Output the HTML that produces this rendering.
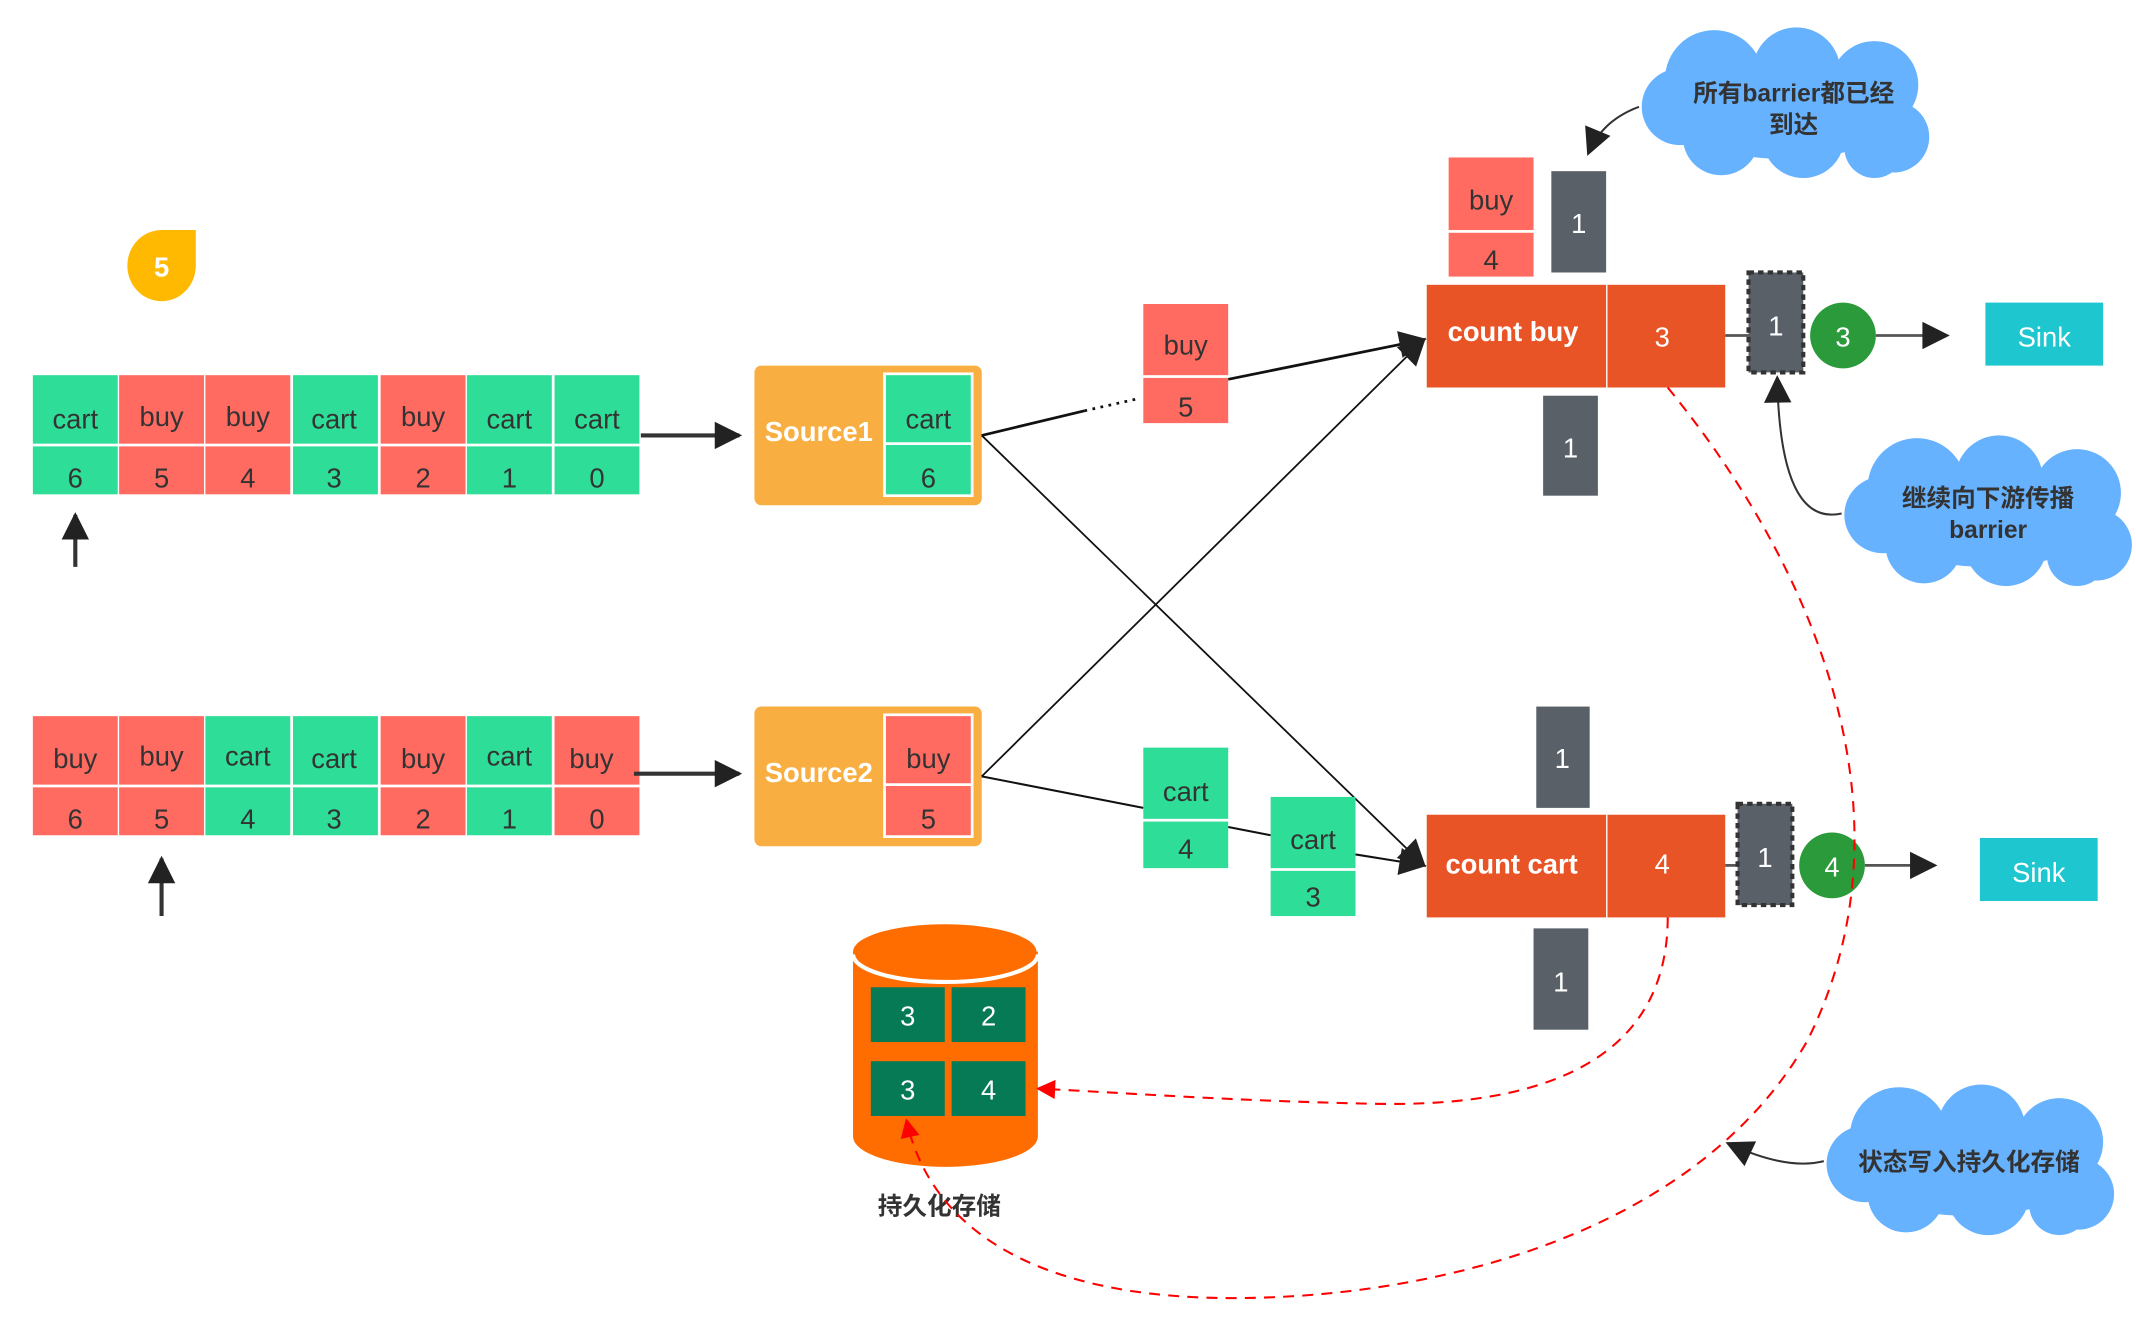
<!DOCTYPE html>
<html><head><meta charset="utf-8"><style>
html,body{margin:0;padding:0;background:#fff;}
svg{display:block;}
text{font-family:"Liberation Sans","Noto Sans CJK SC",sans-serif;}
</style></head><body>
<svg width="2136" height="1320" viewBox="0 0 1560 964" preserveAspectRatio="none" xmlns="http://www.w3.org/2000/svg">
<defs>
<marker id="ab" viewBox="0 0 10 10" refX="9" refY="5" markerWidth="7" markerHeight="7" orient="auto" markerUnits="userSpaceOnUse"><path d="M0,0L10,5L0,10z" fill="#333"/></marker>
<marker id="ab2" viewBox="0 0 10 10" refX="9" refY="5" markerWidth="24" markerHeight="20" orient="auto" markerUnits="userSpaceOnUse"><path d="M0,0L10,5L0,10z" fill="#222"/></marker>
<marker id="ar" viewBox="0 0 10 10" refX="9" refY="5" markerWidth="16" markerHeight="14" orient="auto" markerUnits="userSpaceOnUse"><path d="M0,0L10,5L0,10z" fill="#f00"/></marker>
<g id="cloud">
<circle cx="55" cy="38" r="36"/><circle cx="115" cy="32" r="32"/><circle cx="172" cy="42" r="32"/>
<circle cx="186" cy="80" r="26"/><circle cx="172" cy="88" r="22"/><circle cx="120" cy="80" r="30"/><circle cx="60" cy="80" r="28"/>
<circle cx="30" cy="58" r="28"/><ellipse cx="106" cy="58" rx="90" ry="38"/>
</g>
</defs>

<!-- yellow drop -->
<path d="M93,194 A25,26 0 0 1 118,168 L143,168 L143,194 A25,26 0 0 1 93,194 Z" fill="#FFB900"/>
<text x="118" y="202" fill="#fff" font-size="20" font-weight="bold" text-anchor="middle">5</text>

<!-- row 1 -->
<g font-size="20" fill="#333" text-anchor="middle">
<rect x="24" y="274" width="62" height="50" fill="#2EDD97"/><rect x="24" y="326" width="62" height="35" fill="#2EDD97"/>
<rect x="87" y="274" width="62" height="50" fill="#FF6B61"/><rect x="87" y="326" width="62" height="35" fill="#FF6B61"/>
<rect x="150" y="274" width="62" height="50" fill="#FF6B61"/><rect x="150" y="326" width="62" height="35" fill="#FF6B61"/>
<rect x="214" y="274" width="62" height="50" fill="#2EDD97"/><rect x="214" y="326" width="62" height="35" fill="#2EDD97"/>
<rect x="278" y="274" width="62" height="50" fill="#FF6B61"/><rect x="278" y="326" width="62" height="35" fill="#FF6B61"/>
<rect x="341" y="274" width="62" height="50" fill="#2EDD97"/><rect x="341" y="326" width="62" height="35" fill="#2EDD97"/>
<rect x="405" y="274" width="62" height="50" fill="#2EDD97"/><rect x="405" y="326" width="62" height="35" fill="#2EDD97"/>
<text x="55" y="313">cart</text><text x="118" y="311">buy</text><text x="181" y="311">buy</text><text x="244" y="313">cart</text><text x="309" y="311">buy</text><text x="372" y="313">cart</text><text x="436" y="313">cart</text>
<text x="55" y="356">6</text><text x="118" y="356">5</text><text x="181" y="356">4</text><text x="244" y="356">3</text><text x="309" y="356">2</text><text x="372" y="356">1</text><text x="436" y="356">0</text>

<!-- row 2 -->
<rect x="24" y="523" width="62" height="50" fill="#FF6B61"/><rect x="24" y="575" width="62" height="35" fill="#FF6B61"/>
<rect x="87" y="523" width="62" height="50" fill="#FF6B61"/><rect x="87" y="575" width="62" height="35" fill="#FF6B61"/>
<rect x="150" y="523" width="62" height="50" fill="#2EDD97"/><rect x="150" y="575" width="62" height="35" fill="#2EDD97"/>
<rect x="214" y="523" width="62" height="50" fill="#2EDD97"/><rect x="214" y="575" width="62" height="35" fill="#2EDD97"/>
<rect x="278" y="523" width="62" height="50" fill="#FF6B61"/><rect x="278" y="575" width="62" height="35" fill="#FF6B61"/>
<rect x="341" y="523" width="62" height="50" fill="#2EDD97"/><rect x="341" y="575" width="62" height="35" fill="#2EDD97"/>
<rect x="405" y="523" width="62" height="50" fill="#FF6B61"/><rect x="405" y="575" width="62" height="35" fill="#FF6B61"/>
<text x="55" y="561">buy</text><text x="118" y="559">buy</text><text x="181" y="559">cart</text><text x="244" y="561">cart</text><text x="309" y="561">buy</text><text x="372" y="559">cart</text><text x="432" y="561">buy</text>
<text x="55" y="605">6</text><text x="118" y="605">5</text><text x="181" y="605">4</text><text x="244" y="605">3</text><text x="309" y="605">2</text><text x="372" y="605">1</text><text x="436" y="605">0</text>
</g>

<!-- arrows from rows -->
<line x1="468" y1="318" x2="540" y2="318" stroke="#333" stroke-width="3" marker-end="url(#ab2)"/>
<line x1="463" y1="565" x2="540" y2="565" stroke="#333" stroke-width="3" marker-end="url(#ab2)"/>
<line x1="55" y1="414" x2="55" y2="376" stroke="#333" stroke-width="3" marker-end="url(#ab2)"/>
<line x1="118" y1="669" x2="118" y2="627" stroke="#333" stroke-width="3" marker-end="url(#ab2)"/>

<!-- sources -->
<rect x="551" y="267" width="166" height="102" rx="5" fill="#F9AE41"/>
<text x="598" y="322" fill="#fff" font-size="20" font-weight="bold" text-anchor="middle">Source1</text>
<rect x="646" y="273" width="64" height="89" fill="#2EDD97" stroke="#fff" stroke-width="2"/>
<line x1="646" y1="324" x2="710" y2="324" stroke="#fff" stroke-width="2"/>
<text x="678" y="313" font-size="20" fill="#333" text-anchor="middle">cart</text>
<text x="678" y="356" font-size="20" fill="#333" text-anchor="middle">6</text>

<rect x="551" y="516" width="166" height="102" rx="5" fill="#F9AE41"/>
<text x="598" y="571" fill="#fff" font-size="20" font-weight="bold" text-anchor="middle">Source2</text>
<rect x="646" y="522" width="64" height="89" fill="#FF6B61" stroke="#fff" stroke-width="2"/>
<line x1="646" y1="573" x2="710" y2="573" stroke="#fff" stroke-width="2"/>
<text x="678" y="561" font-size="20" fill="#333" text-anchor="middle">buy</text>
<text x="678" y="605" font-size="20" fill="#333" text-anchor="middle">5</text>

<!-- connector lines -->
<line x1="717" y1="318" x2="792" y2="300" stroke="#111" stroke-width="2"/>
<line x1="792" y1="300" x2="832" y2="291" stroke="#111" stroke-width="2" stroke-dasharray="2,4"/>
<line x1="897" y1="277" x2="1040" y2="248" stroke="#111" stroke-width="2" marker-end="url(#ab2)"/>
<line x1="717" y1="318" x2="1040" y2="632" stroke="#111" stroke-width="1.3" marker-end="url(#ab2)"/>
<line x1="717" y1="567" x2="1040" y2="248" stroke="#111" stroke-width="1.3" marker-end="url(#ab2)"/>
<line x1="717" y1="567" x2="835" y2="590" stroke="#111" stroke-width="1.5"/>
<line x1="897" y1="604" x2="928" y2="610" stroke="#111" stroke-width="1.5"/>
<line x1="990" y1="624" x2="1040" y2="632" stroke="#111" stroke-width="1.5" marker-end="url(#ab2)"/>

<!-- in-flight boxes -->
<g font-size="20" fill="#333" text-anchor="middle">
<rect x="835" y="222" width="62" height="52" fill="#FF6B61"/><rect x="835" y="276" width="62" height="33" fill="#FF6B61"/>
<text x="866" y="259">buy</text><text x="866" y="304">5</text>
<rect x="835" y="546" width="62" height="52" fill="#2EDD97"/><rect x="835" y="600" width="62" height="34" fill="#2EDD97"/>
<text x="866" y="585">cart</text><text x="866" y="627">4</text>
<rect x="928" y="582" width="62" height="52" fill="#2EDD97"/><rect x="928" y="636" width="62" height="33" fill="#2EDD97"/>
<text x="959" y="620">cart</text><text x="959" y="662">3</text>
<rect x="1058" y="115" width="62" height="53" fill="#FF6B61"/><rect x="1058" y="170" width="62" height="32" fill="#FF6B61"/>
<text x="1089" y="153">buy</text><text x="1089" y="197">4</text>
</g>

<!-- operators -->
<rect x="1042" y="208" width="131" height="75" fill="#E95426"/>
<rect x="1174" y="208" width="86" height="75" fill="#E95426"/>
<text x="1105" y="249" fill="#fff" font-size="20" font-weight="bold" text-anchor="middle">count  buy</text>
<text x="1214" y="253" fill="#fff" font-size="20" text-anchor="middle">3</text>
<rect x="1042" y="595" width="131" height="75" fill="#E95426"/>
<rect x="1174" y="595" width="86" height="75" fill="#E95426"/>
<text x="1104" y="638" fill="#fff" font-size="20" font-weight="bold" text-anchor="middle">count cart</text>
<text x="1214" y="638" fill="#fff" font-size="20" text-anchor="middle">4</text>

<!-- barriers -->
<g font-size="20" fill="#fff" text-anchor="middle">
<rect x="1133" y="125" width="40" height="74" fill="#5A6068"/><text x="1153" y="170">1</text>
<rect x="1127" y="289" width="40" height="73" fill="#5A6068"/><text x="1147" y="334">1</text>
<rect x="1122" y="516" width="39" height="74" fill="#5A6068"/><text x="1141" y="561">1</text>
<rect x="1120" y="678" width="40" height="74" fill="#5A6068"/><text x="1140" y="724">1</text>
<line x1="1260" y1="245" x2="1277" y2="245" stroke="#555" stroke-width="2"/>
<line x1="1260" y1="632" x2="1269" y2="632" stroke="#555" stroke-width="2"/>
<rect x="1277" y="199" width="40" height="73" fill="#5A6068" stroke="#333" stroke-width="3" stroke-dasharray="4,3"/><text x="1297" y="245">1</text>
<rect x="1269" y="587" width="40" height="74" fill="#5A6068" stroke="#333" stroke-width="3" stroke-dasharray="4,3"/><text x="1289" y="633">1</text>
<circle cx="1346" cy="245" r="24" fill="#2A9A3A"/><text x="1346" y="253">3</text>
<circle cx="1338" cy="632" r="24" fill="#2A9A3A"/><text x="1338" y="640">4</text>
</g>
<line x1="1370" y1="245" x2="1422" y2="245" stroke="#555" stroke-width="2" marker-end="url(#ab2)"/>
<line x1="1362" y1="632" x2="1413" y2="632" stroke="#555" stroke-width="2" marker-end="url(#ab2)"/>
<rect x="1450" y="221" width="86" height="46" fill="#1EC6D0"/>
<text x="1493" y="253" fill="#fff" font-size="20" text-anchor="middle">Sink</text>
<rect x="1446" y="612" width="86" height="46" fill="#1EC6D0"/>
<text x="1489" y="644" fill="#fff" font-size="20" text-anchor="middle">Sink</text>

<!-- clouds -->
<g fill="#66B2FF">
<use href="#cloud" transform="translate(1197,20)"/>
<use href="#cloud" transform="translate(1345,318)"/>
<use href="#cloud" transform="translate(1332,792)"/>
</g>
<g font-size="18" font-weight="bold" fill="#333" text-anchor="middle">
<text x="1310" y="74">所有barrier都已经</text><text x="1310" y="97">到达</text>
<text x="1452" y="370">继续向下游传播</text><text x="1452" y="393">barrier</text>
<text x="1438" y="855">状态写入持久化存储</text>
</g>
<path d="M1197,78 Q1170,88 1160,112" fill="none" stroke="#333" stroke-width="1.5" marker-end="url(#ab2)"/>
<path d="M1345,375 Q1300,385 1298,276" fill="none" stroke="#333" stroke-width="1.5" marker-end="url(#ab2)"/>
<path d="M1332,848 Q1305,855 1262,835" fill="none" stroke="#333" stroke-width="1.5" marker-end="url(#ab2)"/>

<!-- cylinder -->
<path d="M623,695 L623,830 A67,22 0 0 0 758,830 L758,695 Z" fill="#FF6D00"/>
<ellipse cx="690" cy="695" rx="67" ry="20" fill="#FF6D00"/>
<path d="M623,697 A67,20 0 0 0 758,697" fill="none" stroke="#fff" stroke-width="3"/>
<g font-size="20" fill="#fff" text-anchor="middle">
<rect x="636" y="721" width="54" height="40" fill="#067A55"/><text x="663" y="749">3</text>
<rect x="695" y="721" width="54" height="40" fill="#067A55"/><text x="722" y="749">2</text>
<rect x="636" y="775" width="54" height="40" fill="#067A55"/><text x="663" y="803">3</text>
<rect x="695" y="775" width="54" height="40" fill="#067A55"/><text x="722" y="803">4</text>
</g>
<text x="686" y="887" font-size="18" font-weight="bold" fill="#333" text-anchor="middle">持久化存储</text>

<!-- red dashed -->
<path d="M1218,670 C1218,760 1150,810 1000,806 C900,804 820,798 758,795" fill="none" stroke="#f00" stroke-width="1.5" stroke-dasharray="8,6" marker-end="url(#ar)"/>
<path d="M1218,283 C1330,420 1400,600 1320,760 C1240,900 1050,948 900,948 C760,948 680,900 662,818" fill="none" stroke="#f00" stroke-width="1.5" stroke-dasharray="8,6" marker-end="url(#ar)"/>
</svg>
</body></html>
